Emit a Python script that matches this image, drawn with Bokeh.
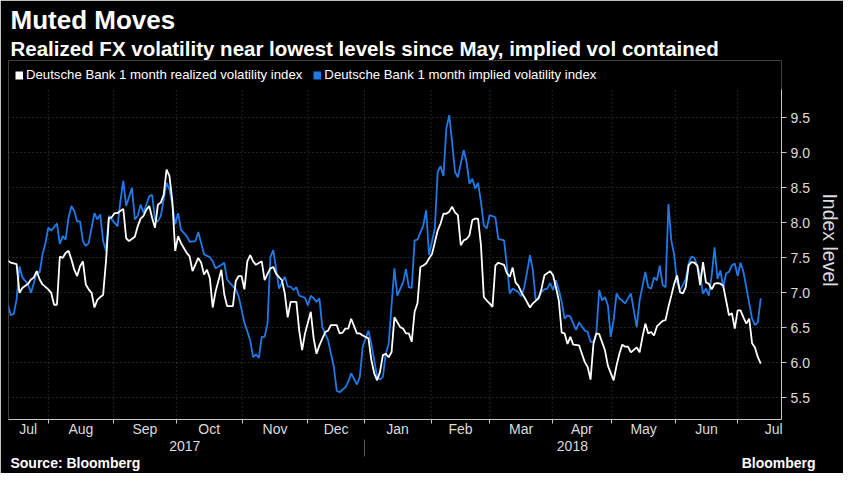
from bokeh.plotting import figure
from bokeh.models import (Range1d, FixedTicker, LinearAxis, Legend, LegendItem, Title)
from bokeh.embed import file_html
from bokeh.resources import INLINE

# ---------------- data (x = trading-day index from mid-July 2017) ----------------
realized_day = [0, 1, 3, 4, 5, 7, 8, 9, 10, 11, 12, 14, 15, 16, 17, 18, 19, 20, 21, 22,
                23, 24, 25, 26, 27, 28, 29, 30, 31, 32, 33, 34, 35, 36, 37, 38, 40, 41, 42, 44,
                45, 46, 47, 48, 49, 50, 51, 52, 53, 54, 55, 56, 57, 58, 59, 60, 62, 63, 64, 66,
                67, 68, 69, 70, 71, 72, 74, 75, 76, 78, 79, 80, 81, 82, 83, 84, 85, 86, 88, 89,
                90, 91, 92, 93, 95, 96, 97, 98, 100, 101, 102, 103, 105, 106, 107, 108, 110, 111, 112, 114,
                115, 116, 117, 118, 119, 121, 122, 123, 125, 126, 127, 128, 129, 130, 131, 132, 133, 134, 135, 136,
                137, 138, 139, 140, 141, 142, 143, 144, 145, 146, 147, 148, 149, 150, 151, 152, 153, 154, 155, 156,
                157, 158, 159, 160, 161, 162, 163, 164, 165, 166, 167, 168, 169, 170, 172, 173, 174, 175, 176, 177,
                178, 179, 181, 182, 184, 185, 186, 188, 189, 190, 191, 192, 193, 194, 195, 196, 198, 199, 200, 201,
                202, 203, 204, 205, 207, 208, 210, 211, 212, 213, 214, 215, 216, 218, 219, 220, 221, 222, 223, 224,
                225, 226, 227, 228, 229, 230, 231, 232, 233, 234, 235, 236, 237, 238, 239, 240, 241, 242, 243, 244,
                245, 246, 247, 248, 249, 250, 251, 252, 253, 254, 255, 256, 257, 258, 259, 260, 261]
realized = [7.46, 7.43, 7.41, 7.00, 7.07, 7.13, 7.19, 7.22, 7.31, 7.19, 7.12, 7.05, 7.00, 6.83, 6.83, 7.52, 7.50, 7.57, 7.60, 7.48,
            7.33, 7.24, 7.38, 7.45, 7.12, 7.05, 7.00, 6.79, 6.90, 6.94, 6.97, 7.45, 8.07, 8.08, 8.14, 8.14, 8.20, 7.78, 7.74, 7.80,
            7.95, 8.06, 8.10, 8.19, 8.24, 8.07, 7.93, 8.26, 8.29, 8.40, 8.76, 8.67, 8.31, 7.60, 7.81, 7.71, 7.57, 7.52, 7.31, 7.50,
            7.43, 7.26, 7.33, 7.21, 6.79, 7.02, 7.33, 6.98, 6.81, 6.81, 7.17, 7.24, 7.24, 7.05, 7.45, 7.54, 7.45, 7.40, 7.45, 7.18,
            7.27, 7.35, 7.37, 7.27, 7.18, 6.99, 6.65, 6.87, 6.87, 6.46, 6.18, 6.42, 6.73, 6.35, 6.13, 6.25, 6.44, 6.46, 6.54, 6.54,
            6.42, 6.43, 6.49, 6.49, 6.63, 6.42, 6.42, 6.39, 6.35, 6.04, 5.85, 5.75, 5.87, 6.11, 6.13, 6.08, 6.15, 6.65, 6.58, 6.51,
            6.49, 6.42, 6.42, 6.30, 6.73, 6.85, 7.37, 7.39, 7.42, 7.49, 7.55, 7.72, 7.89, 7.99, 8.13, 8.13, 8.16, 8.23, 8.15, 8.11,
            7.68, 7.75, 7.77, 7.82, 8.04, 8.06, 8.06, 7.68, 6.94, 6.89, 6.85, 6.80, 7.39, 7.43, 7.40, 7.28, 7.23, 7.36, 7.15, 7.10,
            7.01, 6.94, 6.79, 6.85, 6.92, 7.06, 7.25, 7.31, 7.25, 7.08, 6.89, 6.43, 6.42, 6.27, 6.37, 6.26, 6.25, 6.13, 6.01, 5.94,
            5.76, 6.27, 6.42, 6.41, 6.18, 5.96, 5.75, 5.96, 6.13, 6.26, 6.23, 6.23, 6.15, 6.22, 6.15, 6.37, 6.56, 6.42, 6.44, 6.39,
            6.52, 6.56, 6.60, 6.61, 6.80, 6.96, 7.13, 7.25, 7.01, 6.99, 7.08, 7.39, 7.44, 7.43, 7.39, 7.11, 7.44, 7.15, 7.13, 7.05,
            7.13, 7.14, 7.13, 7.10, 6.89, 6.68, 6.71, 6.49, 6.75, 6.75, 6.65, 6.56, 6.63, 6.28, 6.22, 6.08, 5.99]

implied_day = [0, 1, 2, 3, 4, 5, 7, 8, 9, 10, 11, 12, 13, 14, 15, 16, 17, 18, 19, 20,
               21, 22, 23, 24, 25, 26, 27, 28, 30, 31, 32, 33, 34, 35, 36, 38, 39, 40, 41, 43,
               44, 45, 46, 47, 49, 50, 51, 52, 53, 55, 56, 57, 58, 59, 60, 62, 63, 65, 66, 67,
               68, 70, 71, 72, 74, 75, 76, 77, 79, 80, 81, 82, 83, 84, 85, 86, 87, 88, 89, 90,
               91, 92, 94, 95, 96, 97, 98, 99, 100, 101, 103, 104, 105, 106, 107, 108, 109, 111, 112, 113,
               114, 115, 117, 118, 119, 121, 122, 123, 125, 126, 127, 128, 129, 130, 131, 132, 133, 134, 135, 137,
               138, 139, 140, 141, 142, 144, 145, 146, 147, 148, 149, 150, 151, 152, 153, 154, 155, 156, 158, 159,
               160, 161, 162, 163, 164, 165, 166, 167, 169, 170, 172, 173, 174, 175, 177, 178, 179, 180, 181, 182,
               183, 184, 185, 186, 187, 188, 189, 190, 191, 192, 193, 194, 195, 196, 197, 198, 199, 200, 201, 202,
               203, 204, 205, 206, 207, 208, 209, 210, 211, 212, 213, 214, 216, 217, 218, 219, 221, 222, 223, 224,
               225, 226, 227, 228, 229, 230, 231, 232, 233, 234, 235, 236, 237, 238, 239, 240, 241, 242, 243, 244,
               245, 246, 247, 248, 249, 250, 251, 252, 253, 254, 255, 256, 257, 258, 259, 260, 261]
implied = [6.83, 6.68, 6.70, 6.90, 7.38, 7.22, 7.12, 7.00, 7.14, 7.30, 7.29, 7.55, 7.71, 7.93, 7.89, 7.94, 7.99, 7.70, 7.81, 7.76,
           8.07, 8.24, 8.17, 8.02, 8.02, 7.74, 7.67, 7.71, 8.14, 8.05, 8.12, 7.74, 7.60, 8.10, 8.05, 7.95, 8.31, 8.60, 8.24, 8.50,
           8.05, 8.10, 8.26, 8.14, 8.38, 8.40, 8.05, 8.02, 8.10, 8.57, 8.48, 8.26, 7.98, 8.14, 7.90, 7.81, 7.73, 7.74, 7.87, 7.71,
           7.55, 7.51, 7.45, 7.35, 7.40, 7.43, 7.19, 7.14, 7.05, 6.95, 6.76, 6.57, 6.45, 6.32, 6.08, 6.12, 6.07, 6.37, 6.37, 6.56,
           7.51, 7.61, 7.06, 7.15, 7.23, 7.09, 7.09, 7.04, 7.08, 6.96, 6.93, 6.82, 6.96, 6.92, 6.87, 6.92, 6.51, 6.32, 6.13, 5.94,
           5.60, 5.58, 5.65, 5.73, 5.85, 5.69, 5.80, 6.23, 6.46, 6.27, 6.04, 5.80, 5.76, 5.80, 6.13, 6.27, 6.82, 7.35, 6.96, 7.15,
           7.34, 7.08, 7.07, 7.75, 7.76, 7.96, 8.18, 7.54, 7.73, 7.92, 8.73, 8.81, 8.67, 9.35, 9.54, 9.15, 8.73, 8.65, 9.04, 8.87,
           8.56, 8.63, 8.49, 8.57, 8.30, 7.96, 7.92, 8.11, 8.08, 7.77, 7.75, 7.39, 6.99, 7.06, 7.01, 6.95, 7.08, 7.30, 7.54, 7.32,
           6.89, 6.94, 7.01, 7.05, 7.06, 7.14, 7.04, 7.18, 7.04, 6.87, 6.63, 6.68, 6.66, 6.56, 6.47, 6.58, 6.52, 6.46, 6.44, 6.30,
           6.30, 6.42, 7.04, 6.89, 6.94, 6.82, 6.37, 6.61, 6.99, 6.92, 6.89, 6.85, 6.99, 6.75, 6.51, 6.89, 7.30, 7.08, 7.06, 7.22,
           7.18, 7.39, 7.11, 7.08, 8.27, 7.75, 7.54, 7.15, 7.04, 7.11, 7.20, 7.42, 7.52, 7.50, 7.39, 7.25, 6.99, 7.06, 6.96, 7.25,
           7.65, 7.20, 7.32, 7.08, 7.28, 7.30, 7.39, 7.42, 7.24, 7.43, 7.30, 7.08, 6.85, 6.63, 6.54, 6.58, 6.92]

month_starts = [14.0, 36.7, 58.4, 81.2, 104.0, 123.6, 146.7, 167.1, 188.7, 209.4, 231.4, 253.0]
month_label_pos = [7.0, 25.3, 47.5, 69.8, 92.6, 113.8, 135.1, 156.9, 177.9, 199.0, 220.4, 242.2, 265.5]
month_names = ["Jul", "Aug", "Sep", "Oct", "Nov", "Dec", "Jan", "Feb", "Mar", "Apr", "May", "Jun", "Jul"]
year_label_pos = [61.3, 195.7]
year_names = ["2017", "2018"]
year_break = [123.6]
y_ticks = [5.5, 6.0, 6.5, 7.0, 7.5, 8.0, 8.5, 9.0, 9.5]
y_tick_labels = ["5.5", "6.0", "6.5", "7.0", "7.5", "8.0", "8.5", "9.0", "9.5"]

series_names = ["Deutsche Bank 1 month realized volatility index",
                "Deutsche Bank 1 month implied volatility index"]
title_text = "Muted Moves"
subtitle_text = "Realized FX volatility near lowest levels since May, implied vol contained"
footer_pos = [23.4, 267.2]
footer_texts = ["Source: Bloomberg", "Bloomberg"]

# ---------------- style ----------------
FONT = "Liberation Sans"
WHITE = "#ffffff"
BLUE = "#1f7ae8"
GRID = "#4a4a4a"
AXIS = "#c8c8c8"
TEXT = "#dcdcdc"
Y_MIN, Y_MAX = 5.19, 10.32      # frame includes the legend row at its top
PLOT_TOP = 9.91                 # top of the axis line and vertical grid

p = figure(frame_width=773, frame_height=359,
           x_range=Range1d(0.2, 268.2), y_range=Range1d(Y_MIN, Y_MAX),
           output_backend="svg", toolbar_location=None, y_axis_location="right",
           background_fill_color="black", border_fill_color="black",
           outline_line_color=None, title=None,
           min_border_left=8, min_border_right=0, min_border_top=60, min_border_bottom=50)

# grids
p.xgrid.visible = False
p.ygrid[0].ticker = FixedTicker(ticks=y_ticks)
p.ygrid[0].grid_line_color = GRID
p.ygrid[0].grid_line_dash = "1 3"
p.ygrid[0].grid_line_width = 1
p.segment(x0=month_starts, y0=[Y_MIN] * len(month_starts),
          x1=month_starts, y1=[PLOT_TOP] * len(month_starts),
          line_color=GRID, line_dash="1 3", line_width=1)

# month axis (labels centred in months, minor ticks at month starts)
xa = p.xaxis[0]
xa.ticker = FixedTicker(ticks=month_label_pos, minor_ticks=month_starts)
xa.major_label_overrides = {pos: name for pos, name in zip(month_label_pos, month_names)}
xa.axis_line_color = AXIS
xa.major_tick_line_color = None
xa.major_tick_out = 0
xa.major_tick_in = 0
xa.minor_tick_line_color = AXIS
xa.minor_tick_out = 4
xa.minor_tick_in = 0
xa.major_label_standoff = -3
xa.major_label_text_font = FONT
xa.major_label_text_font_size = "14px"
xa.major_label_text_color = TEXT

# year axis
ax_year = LinearAxis(ticker=FixedTicker(ticks=year_label_pos, minor_ticks=year_break))
ax_year.major_label_overrides = {pos: name for pos, name in zip(year_label_pos, year_names)}
ax_year.axis_line_color = None
ax_year.major_tick_line_color = None
ax_year.major_tick_out = 0
ax_year.major_tick_in = 0
ax_year.minor_tick_line_color = "#5a5a5a"
ax_year.minor_tick_out = 17
ax_year.minor_tick_in = 0
ax_year.major_label_standoff = -16
ax_year.major_label_text_font = FONT
ax_year.major_label_text_font_size = "14px"
ax_year.major_label_text_color = TEXT
p.add_layout(ax_year, "below")

# footer row (source + brand) as an unlined axis
ax_foot = LinearAxis(ticker=FixedTicker(ticks=footer_pos))
ax_foot.major_label_overrides = {pos: t for pos, t in zip(footer_pos, footer_texts)}
ax_foot.axis_line_color = None
ax_foot.major_tick_line_color = None
ax_foot.minor_tick_line_color = None
ax_foot.major_tick_out = 0
ax_foot.major_tick_in = 0
ax_foot.minor_tick_out = 0
ax_foot.major_label_standoff = 1
ax_foot.major_label_text_font = FONT
ax_foot.major_label_text_font_style = "bold"
ax_foot.major_label_text_font_size = "14px"
ax_foot.major_label_text_color = WHITE
p.add_layout(ax_foot, "below")

# right value axis
yax = p.yaxis[0]
yax.bounds = (Y_MIN, PLOT_TOP)
yax.ticker = FixedTicker(ticks=y_ticks)
yax.major_label_overrides = {t: s for t, s in zip(y_ticks, y_tick_labels)}
yax.axis_line_color = AXIS
yax.major_tick_line_color = AXIS
yax.major_tick_out = 5
yax.major_tick_in = 0
yax.minor_tick_line_color = None
yax.major_label_standoff = 4
yax.major_label_text_font = FONT
yax.major_label_text_font_size = "14px"
yax.major_label_text_color = TEXT
yax.axis_label = "Index level"
yax.axis_label_text_font = FONT
yax.axis_label_text_font_style = "normal"
yax.axis_label_text_font_size = "19.5px"
yax.axis_label_text_color = TEXT
yax.axis_label_standoff = 6

# lines
p.line(implied_day, implied, line_color=BLUE, line_width=1.8)
p.line(realized_day, realized, line_color=WHITE, line_width=1.8)

# legend swatches: single-point lines (draw nothing in the plot) whose thick,
# short legend stroke renders as a small square
sw1 = p.line(x=realized_day[:1], y=realized[:1], line_color=WHITE, line_width=8)
sw2 = p.line(x=implied_day[:1], y=implied[:1], line_color=BLUE, line_width=8)
legend = Legend(items=[LegendItem(label=series_names[0], renderers=[sw1]),
                       LegendItem(label=series_names[1], renderers=[sw2])],
                location=(7, 337), orientation="horizontal",
                glyph_width=8, glyph_height=12, label_standoff=3, spacing=11,
                padding=0, margin=0, background_fill_alpha=0, border_line_alpha=0,
                label_text_color=WHITE, label_text_font=FONT,
                label_text_font_size="13.2px", label_height=12)
p.add_layout(legend)

p.add_layout(Title(text=subtitle_text, text_font=FONT, text_font_style="bold",
                   text_font_size="20.5px", text_color=WHITE, align="left",
                   offset=2, standoff=1), "above")
p.add_layout(Title(text=title_text, text_font=FONT, text_font_style="bold",
                   text_font_size="26px", text_color=WHITE, align="left",
                   offset=2, standoff=0), "above")

open("out.html", "w").write(file_html(p, INLINE))
